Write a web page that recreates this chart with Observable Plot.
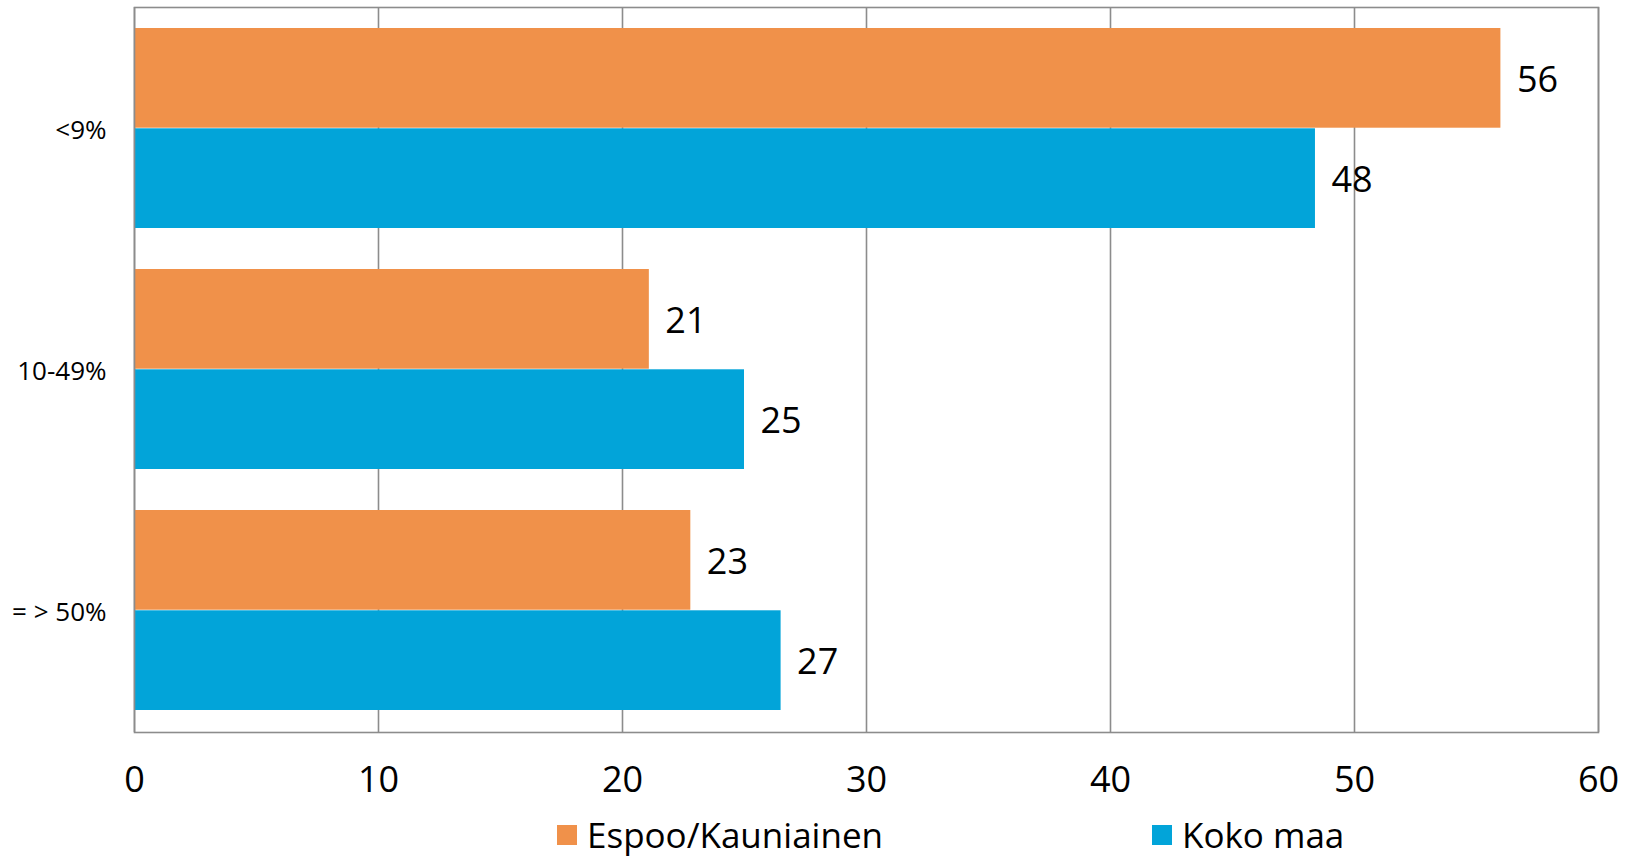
<!DOCTYPE html>
<html>
<head>
<meta charset="utf-8">
<script src="https://cdn.jsdelivr.net/npm/d3@7"></script>
<script src="https://cdn.jsdelivr.net/npm/@observablehq/plot@0.6"></script>
<style>
  html, body { margin: 0; padding: 0; background: #fff; }
  body { width: 1635px; height: 856px; overflow: hidden; font-family: "Open Sans", sans-serif; }
  #legend { position: relative; height: 51px; width: 1635px; }
  .item { position: absolute; top: 0; display: flex; align-items: flex-end; height: 47px; font-size: 35px; line-height: 1; color: #000; }
  .sw { width: 20px; height: 20px; margin-right: 10px; margin-bottom: 7px; }
</style>
</head>
<body>
<div id="chart"></div>
<div id="legend"></div>
<script>
const categories = ["<9%", "10-49%", "= > 50%"];
const seriesNames = ["Espoo/Kauniainen", "Koko maa"];
const espooValues = [56, 21.1, 22.8];
const kokoMaaValues = [48.4, 25, 26.5];
const xTicks = [0, 10, 20, 30, 40, 50, 60];
const seriesColors = ["#F0914A", "#02A4D9"];

const W = 1635, H = 805, mT = 7, mB = 73, mL = 134, mR = 37;
const padInner = 0.17, padOuter = 0.085;

const rows = [];
categories.forEach((c, i) => {
  rows.push({cat: c, series: seriesNames[0], value: espooValues[i]});
  rows.push({cat: c, series: seriesNames[1], value: kokoMaaValues[i]});
});
const espooRows = rows.filter(r => r.series === seriesNames[0]);
const kokoRows = rows.filter(r => r.series === seriesNames[1]);

const bw = d3.scaleBand(categories, [mT, H - mB]).paddingInner(padInner).paddingOuter(padOuter).bandwidth();
const half = bw / 2;

const gridColor = "#8c8c8c";

const chart = Plot.plot({
  width: W, height: H,
  marginTop: mT, marginBottom: mB, marginLeft: mL, marginRight: mR,
  style: {fontFamily: "'Open Sans', sans-serif", background: "white", color: "black", overflow: "visible"},
  x: {domain: [0, 60], axis: null},
  y: {domain: categories, axis: null, paddingInner: padInner, paddingOuter: padOuter},
  marks: [
    Plot.ruleX(xTicks, {x: d => d, stroke: gridColor, strokeWidth: 1.6}),
    Plot.barX(espooRows, {y: "cat", x: "value", fill: seriesColors[0], insetBottom: half}),
    Plot.barX(kokoRows, {y: "cat", x: "value", fill: seriesColors[1], insetTop: half}),
    Plot.text(espooRows, {y: "cat", x: "value", text: d => String(Math.round(d.value)), dx: 16, dy: -half / 2 + 2, textAnchor: "start", fontSize: 36, fill: "black"}),
    Plot.text(kokoRows, {y: "cat", x: "value", text: d => String(Math.round(d.value)), dx: 16, dy: half / 2 + 2, textAnchor: "start", fontSize: 36, fill: "black"}),
    Plot.text(xTicks, {x: d => d, frameAnchor: "bottom", dy: 59, text: d => String(d), fontSize: 36, fill: "black"}),
    Plot.text(categories, {y: d => d, frameAnchor: "left", dx: -28, dy: 2, textAnchor: "end", text: d => d, fontSize: 26, fill: "black"}),
    Plot.frame({stroke: gridColor, strokeWidth: 1.6})
  ]
});
document.getElementById("chart").appendChild(chart);

const legend = document.getElementById("legend");
const legendLeft = [557, 1152];
seriesNames.forEach((name, i) => {
  const item = document.createElement("div");
  item.className = "item";
  item.style.left = legendLeft[i] + "px";
  const sw = document.createElement("span");
  sw.className = "sw";
  sw.style.background = seriesColors[i];
  const t = document.createElement("span");
  t.textContent = name;
  item.appendChild(sw);
  item.appendChild(t);
  legend.appendChild(item);
});
</script>
</body>
</html>
